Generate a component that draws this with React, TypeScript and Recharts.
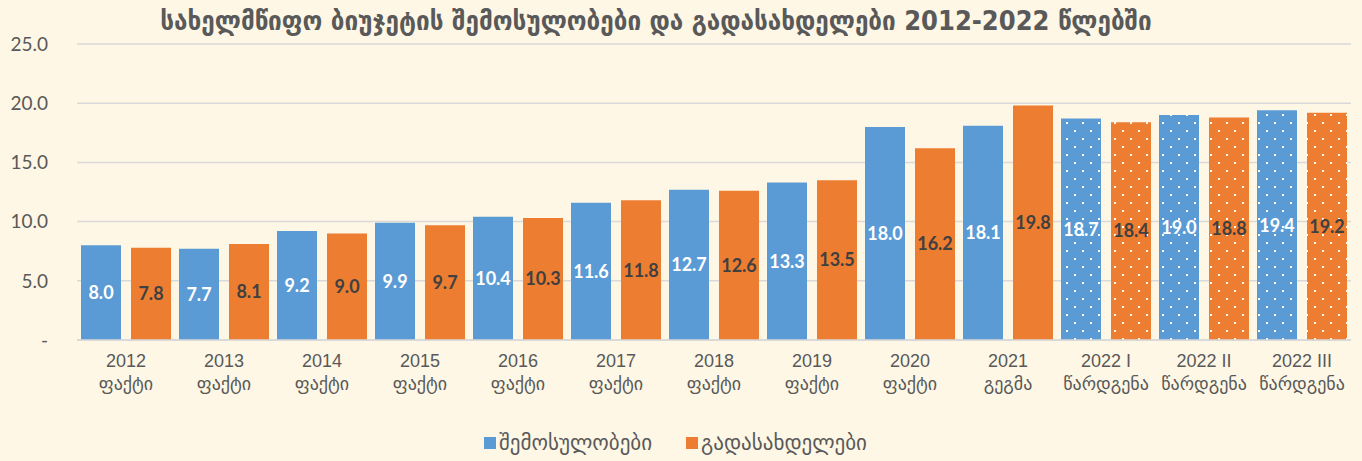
import { BarChart, Bar, XAxis, YAxis, CartesianGrid, Legend, LabelList, Cell } from 'recharts';

const years = ['2012', '2013', '2014', '2015', '2016', '2017', '2018', '2019', '2020', '2021', '2022 I', '2022 II', '2022 III'];
const stages = ['ფაქტი', 'ფაქტი', 'ფაქტი', 'ფაქტი', 'ფაქტი', 'ფაქტი', 'ფაქტი', 'ფაქტი', 'ფაქტი', 'გეგმა', 'წარდგენა', 'წარდგენა', 'წარდგენა'];
const revenues = [8.0, 7.7, 9.2, 9.9, 10.4, 11.6, 12.7, 13.3, 18.0, 18.1, 18.7, 19.0, 19.4];
const expenditures = [7.8, 8.1, 9.0, 9.7, 10.3, 11.8, 12.6, 13.5, 16.2, 19.8, 18.4, 18.8, 19.2];
const yTicks = [0, 5, 10, 15, 20, 25];
const seriesNames = ['შემოსულობები', 'გადასახდელები'];

const BLUE = '#5B9BD5';
const ORANGE = '#ED7D31';
const TEXT = '#595959';
const BG = '#FEF7E5';
const GEO = '"DejaVu Sans", sans-serif';

const data = years.map((year, i) => ({
  year,
  stage: stages[i],
  revenue: revenues[i],
  expenditure: expenditures[i],
  draft: stages[i] === 'წარდგენა',
}));

const CategoryTick = (props: any) => {
  const { x, y, payload, index } = props;
  return (
    <text x={x} y={y} textAnchor="middle" fill={TEXT} fontSize={18} fontFamily={'"Liberation Sans", ' + GEO}>
      <tspan x={x} dy={19}>{payload.value}</tspan>
      <tspan x={x} dy={23} fontFamily={GEO} fontSize={18}>{data[index]?.stage}</tspan>
    </text>
  );
};

const LegendContent = () => (
  <div
    style={{
      display: 'flex',
      justifyContent: 'center',
      alignItems: 'center',
      height: 37,
      gap: 34,
      fontFamily: GEO,
      fontSize: 21,
      color: TEXT,
    }}
  >
    {seriesNames.map((name, i) => (
      <div key={name} style={{ display: 'flex', alignItems: 'center' }}>
        <span style={{ width: 12, height: 12, background: i === 0 ? BLUE : ORANGE, marginRight: 3, display: 'inline-block' }} />
        <span>{name}</span>
      </div>
    ))}
  </div>
);

const App = () => {
  return (
    <div style={{ position: 'absolute', left: 0, top: 0, width: 1362, height: 461, background: BG }}>
      <div
        style={{
          position: 'absolute',
          top: 5,
          left: 0,
          width: 1312,
          textAlign: 'center',
          fontFamily: '"DejaVu Sans Condensed", "DejaVu Sans", sans-serif',
          fontWeight: 'bold',
          fontSize: 27,
          color: TEXT,
        }}
      >
        სახელმწიფო ბიუჯეტის შემოსულობები და გადასახდელები 2012-2022 წლებში
      </div>
      <BarChart
        width={1362}
        height={461}
        data={data}
        margin={{ top: 44, right: 11, left: 0, bottom: 14 }}
        barGap={10}
        barSize={40}
      >
        <defs>
          <pattern id="dotsBlue" width="16" height="16" patternUnits="userSpaceOnUse">
            <rect width="16" height="16" fill={BLUE} />
            <rect x="2" y="2" width="2" height="2" fill="#fff" />
            <rect x="10" y="10" width="2" height="2" fill="#fff" />
          </pattern>
          <pattern id="dotsOrange" width="16" height="16" patternUnits="userSpaceOnUse">
            <rect width="16" height="16" fill={ORANGE} />
            <rect x="2" y="2" width="2" height="2" fill="#fff" />
            <rect x="10" y="10" width="2" height="2" fill="#fff" />
          </pattern>
        </defs>
        <CartesianGrid vertical={false} stroke="#D9D9D9" strokeWidth={1.5} />
        <XAxis
          dataKey="year"
          axisLine={{ stroke: '#D9D9D9', strokeWidth: 1.5 }}
          tickLine={false}
          interval={0}
          height={70}
          tick={<CategoryTick />}
        />
        <YAxis
          width={77}
          domain={[0, 25]}
          ticks={yTicks}
          axisLine={false}
          tickLine={false}
          tickMargin={23}
          tick={{ fill: TEXT, fontSize: 19, fontFamily: 'Lato, sans-serif' }}
          tickFormatter={(v: number) => (v === 0 ? '-' : v.toFixed(1))}
        />
        <Legend verticalAlign="bottom" height={37} wrapperStyle={{ bottom: 0 }} content={<LegendContent />} />
        <Bar dataKey="revenue" name={seriesNames[0]} fill={BLUE} isAnimationActive={false}>
          {data.map((d, i) => (
            <Cell key={i} fill={d.draft ? 'url(#dotsBlue)' : BLUE} />
          ))}
          <LabelList
            dataKey="revenue"
            position="center"
            formatter={(v: number) => v.toFixed(1)}
            fill="#fff"
            fontSize={18}
            fontWeight="bold"
            fontFamily="Lato, sans-serif"
          />
        </Bar>
        <Bar dataKey="expenditure" name={seriesNames[1]} fill={ORANGE} isAnimationActive={false}>
          {data.map((d, i) => (
            <Cell key={i} fill={d.draft ? 'url(#dotsOrange)' : ORANGE} />
          ))}
          <LabelList
            dataKey="expenditure"
            position="center"
            formatter={(v: number) => v.toFixed(1)}
            fill="#404040"
            fontSize={18}
            fontWeight="bold"
            fontFamily="Lato, sans-serif"
          />
        </Bar>
      </BarChart>
    </div>
  );
};

export default App;
